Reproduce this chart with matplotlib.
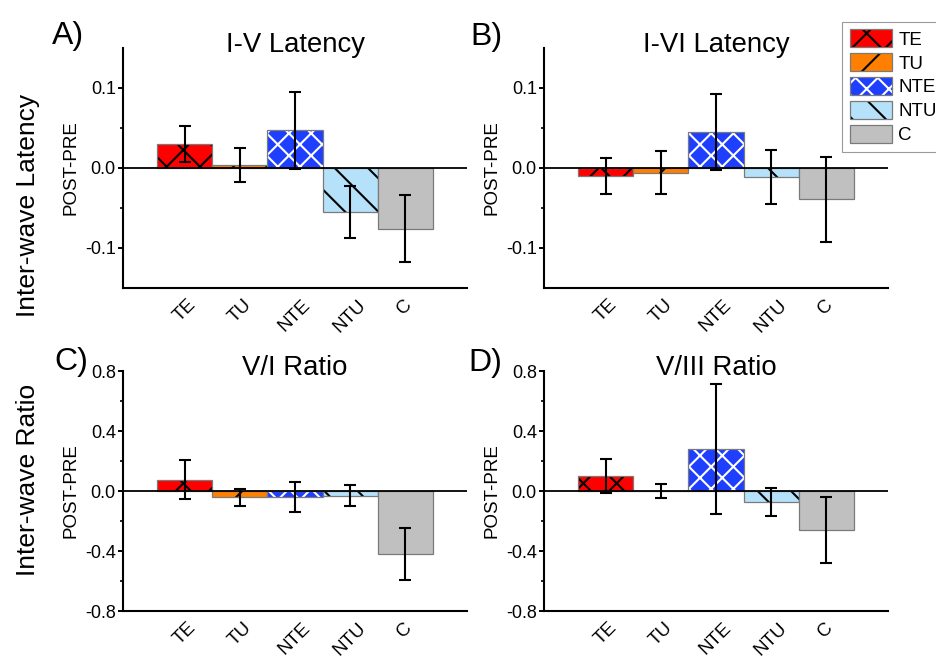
import matplotlib
matplotlib.use("Agg")
import matplotlib.pyplot as plt
from matplotlib.patches import Patch
from matplotlib.ticker import FormatStrFormatter

# drawn at 200 dpi so the hatch spacing comes out wide like the original;
# all sizes in points are therefore half of what they look like at 100 dpi
plt.rcParams['font.family'] = ['Liberation Sans', 'DejaVu Sans']
plt.rcParams['axes.unicode_minus'] = False
plt.rcParams['hatch.linewidth'] = 0.75

groups = ['TE', 'TU', 'NTE', 'NTU', 'C']
face = ['#ff0000', '#ff8000', '#1f3fff', '#b5e2fa', '#c0c0c0']
hatch_col = ['black', 'black', 'white', 'black', 'black']
hatches = ['xx', '//', 'xxx', '\\\\', '']

titles = ['I-V Latency', 'I-VI Latency', 'V/I Ratio', 'V/III Ratio']
letters = ['A)', 'B)', 'C)', 'D)']

iv_lat = [0.030, 0.004, 0.047, -0.055, -0.076]
iv_lat_err = [0.023, 0.021, 0.048, 0.032, 0.042]
ivi_lat = [-0.010, -0.006, 0.045, -0.011, -0.039]
ivi_lat_err = [0.022, 0.027, 0.048, 0.034, 0.053]
v_i = [0.076, -0.042, -0.040, -0.033, -0.421]
v_i_err = [0.128, 0.055, 0.100, 0.070, 0.172]
v_iii = [0.100, 0.001, 0.279, -0.075, -0.261]
v_iii_err = [0.112, 0.048, 0.432, 0.092, 0.221]

values = [iv_lat, ivi_lat, v_i, v_iii]
errors = [iv_lat_err, ivi_lat_err, v_i_err, v_iii_err]

W, H = 936, 660
fig = plt.figure(figsize=(W / 200, H / 200), dpi=200)

# axes boxes in pixels: left, top, right, bottom
boxes = [(123, 48, 467, 288), (544, 48, 888, 288),
         (123, 371, 467, 611), (544, 371, 888, 611)]
letter_pos = [(52, 44), (470, 45), (54, 370), (468, 371)]

edge = '#7a7a7a'
x = list(range(len(groups)))

for k in range(4):
    l, t, r, b = boxes[k]
    ax = fig.add_axes([l / W, 1 - b / H, (r - l) / W, (b - t) / H])
    vals = values[k]
    errs = errors[k]
    for i in x:
        if hatches[i]:
            ax.bar(i, vals[i], width=1, color=face[i], edgecolor=hatch_col[i],
                   linewidth=0, hatch=hatches[i], zorder=2)
            ax.bar(i, vals[i], width=1, fill=False, edgecolor=edge,
                   linewidth=0.45, zorder=2)
        else:
            ax.bar(i, vals[i], width=1, color=face[i], edgecolor=edge,
                   linewidth=0.45, zorder=2)
    ax.axhline(0, color='black', lw=0.65, zorder=3)
    ax.errorbar(x, vals, yerr=errs, fmt='none', ecolor='black', elinewidth=0.75,
                capsize=2.0, capthick=0.75, zorder=4)

    ax.set_xlim(-1.127, 5.127)
    if k < 2:
        ax.set_ylim(-0.15, 0.15)
        ax.set_yticks([-0.1, 0.0, 0.1])
        ax.set_yticks([-0.05, 0.05], minor=True)
    else:
        ax.set_ylim(-0.8, 0.8)
        ax.set_yticks([-0.8, -0.4, 0.0, 0.4, 0.8])
        ax.set_yticks([-0.6, -0.2, 0.2, 0.6], minor=True)
    ax.yaxis.set_major_formatter(FormatStrFormatter('%.1f'))

    ax.set_xticks(x)
    ax.set_xticklabels(groups, rotation=45, fontsize=6.75)
    ax.set_xticks([2], minor=True)
    ax.tick_params(axis='x', which='major', length=0, pad=3.0)
    ax.tick_params(axis='x', which='minor', length=1.6, width=0.7)
    ax.tick_params(axis='y', which='major', length=1.8, width=0.7, pad=0.8,
                   labelsize=6.5)
    ax.tick_params(axis='y', which='minor', length=1.0, width=0.6)

    for s in ['top', 'right']:
        ax.spines[s].set_visible(False)
    for s in ['left', 'bottom']:
        ax.spines[s].set_linewidth(0.75)

    ax.set_ylabel('POST-PRE', fontsize=6.75, labelpad=2.0)
    ax.set_title(titles[k], fontsize=9.9, y=0.983, pad=0)

    lx, ly = letter_pos[k]
    fig.text(lx / W, 1 - ly / H, letters[k], fontsize=11.5, ha='left', va='baseline')

fig.text(28 / W, 1 - 205 / H, 'Inter-wave Latency', rotation=90, fontsize=9.5,
         ha='center', va='center')
fig.text(28 / W, 1 - 480 / H, 'Inter-wave Ratio', rotation=90, fontsize=9.5,
         ha='center', va='center')

handles = []
for i in x:
    if hatches[i]:
        handles.append((Patch(facecolor=face[i], edgecolor=hatch_col[i], linewidth=0,
                              hatch=hatches[i]),
                        Patch(fill=False, edgecolor=edge, linewidth=0.45)))
    else:
        handles.append(Patch(facecolor=face[i], edgecolor=edge, linewidth=0.45))

leg = fig.legend(handles, groups, loc='upper left',
                 bbox_to_anchor=(842 / W, 1 - 22 / H), fontsize=6.75,
                 handlelength=2.24, handleheight=1.07, labelspacing=0.25,
                 handletextpad=0.37, borderpad=0.4, borderaxespad=0,
                 fancybox=False, edgecolor='#9a9a9a', framealpha=1)
leg.get_frame().set_linewidth(0.4)

fig.savefig('out.png', dpi=200)
